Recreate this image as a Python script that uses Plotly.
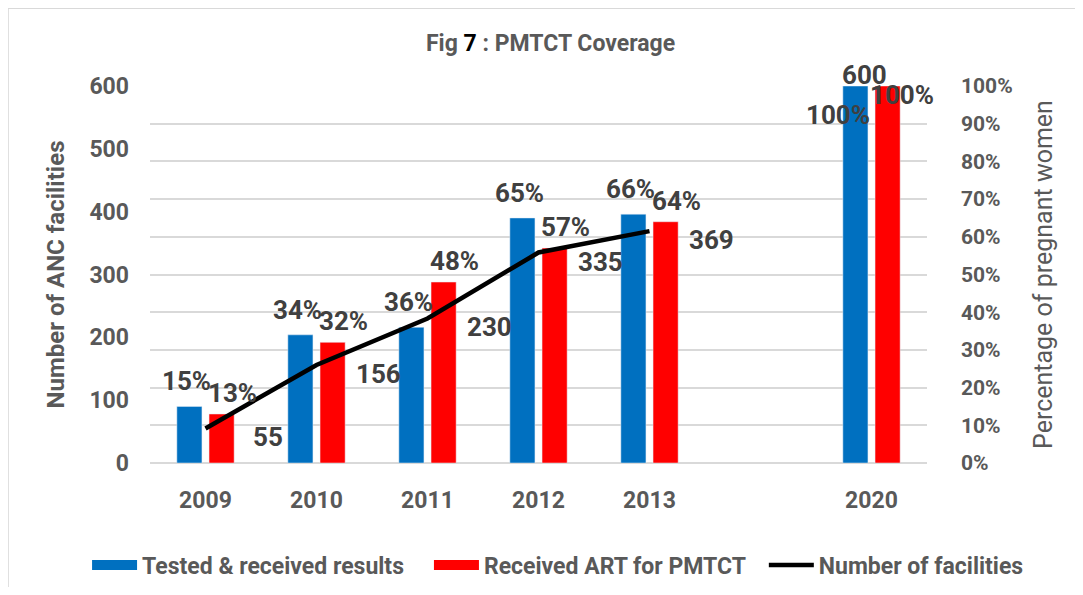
import plotly.graph_objects as go

years = ["2009", "2010", "2011", "2012", "2013", "2020"]
year_pos = [0, 1, 2, 3, 4, 6]   # one empty slot between 2013 and 2020
tested = [0.15, 0.34, 0.36, 0.65, 0.66, 1.00]
art = [0.13, 0.32, 0.48, 0.57, 0.64, 1.00]
# line is broken over the empty slot
line_pos = [0, 1, 2, 3, 4, 5, 6]
facilities = [55, 156, 230, 335, 369, None, 600]

BLUE = "#0070c0"
RED = "#ff0000"
GRAY = "#595959"
LABEL = "#404040"

fig = go.Figure()
fig.add_trace(go.Bar(x=year_pos, y=tested, name="Tested & received results",
                     marker_color=BLUE, yaxis="y", showlegend=False))
fig.add_trace(go.Bar(x=year_pos, y=art, name="Received ART for PMTCT",
                     marker_color=RED, yaxis="y", showlegend=False))
fig.add_trace(go.Scatter(x=line_pos, y=facilities, name="Number of facilities",
                         mode="lines", line=dict(color="black", width=4.5),
                         yaxis="y2", connectgaps=False, legend="legend3"))
# wide swatches for the bar series in the legend
fig.add_trace(go.Scatter(x=[None], y=[None], mode="lines", name="Tested & received results",
                         line=dict(color=BLUE, width=12), legend="legend"))
fig.add_trace(go.Scatter(x=[None], y=[None], mode="lines", name="Received ART for PMTCT",
                         line=dict(color=RED, width=12), legend="legend2"))

lab_font = dict(family="Roboto", size=26, color=LABEL)
ann = []
for i, (p, t, a) in enumerate(zip(year_pos, tested, art)):
    last = i == len(year_pos) - 1
    ann.append(dict(x=p, y=t, xref="x", yref="y", text=f"<b>{round(t*100)}%</b>",
                    showarrow=False, font=lab_font, yanchor="middle",
                    xshift=-34 if last else -19, yshift=-29 if last else 25))
    ann.append(dict(x=p, y=a, xref="x", yref="y", text=f"<b>{round(a*100)}%</b>",
                    showarrow=False, font=lab_font, yanchor="middle",
                    xshift=30 if last else 27, yshift=-9 if last else 21))
for p, v in zip(line_pos, facilities):
    if v is None:
        continue
    last = p == line_pos[-1]
    ann.append(dict(x=p, y=v, xref="x", yref="y2", text=f"<b>{v}</b>",
                    showarrow=False, font=lab_font, yanchor="middle",
                    xshift=-7 if last else 62, yshift=11 if last else -9))

ann.append(dict(x=0.515, y=1.114, xref="paper", yref="paper", showarrow=False,
                xanchor="center", yanchor="middle",
                text="<b>Fig <span style='color:black'>7</span> : PMTCT Coverage</b>",
                font=dict(family="Roboto", size=23, color=GRAY)))

leg = dict(orientation="h", xanchor="left", yref="container", y=0.038, yanchor="middle",
           font=dict(family="Roboto", size=23, color=GRAY, weight="bold"),
           itemwidth=45, bgcolor="rgba(0,0,0,0)")

fig.update_layout(
    width=1067, height=579,
    margin=dict(l=142, r=148, t=78, b=124),
    paper_bgcolor="white", plot_bgcolor="white",
    barmode="group", bargap=0.42, bargroupgap=0.22,
    showlegend=True,
    legend=dict(leg, x=-0.081),
    legend2=dict(leg, x=0.359),
    legend3=dict(leg, x=0.790),
    xaxis=dict(range=[-0.5, 6.5], tickvals=year_pos, ticktext=[f"<b>{y}</b>" for y in years],
               tickfont=dict(family="Roboto", size=23, color=GRAY),
               showgrid=False, showline=False, zeroline=False, ticks="", ticklabelstandoff=21),
    yaxis=dict(side="right", range=[0, 1], dtick=0.1, tickformat=".0%",
               tickfont=dict(family="Roboto", size=21, color=GRAY, weight="bold"),
               showgrid=True, gridcolor="#d9d9d9", gridwidth=2,
               zeroline=True, zerolinecolor="#d9d9d9", zerolinewidth=2,
               ticklabelstandoff=33,
               title=dict(text="Percentage of pregnant women", standoff=22,
                          font=dict(family="Roboto", size=25, color=GRAY))),
    yaxis2=dict(side="left", overlaying="y", range=[0, 600], dtick=100,
                tickfont=dict(family="Roboto", size=23, color=GRAY, weight="bold"),
                showgrid=False, zeroline=False, ticklabelstandoff=20,
                title=dict(text="Number of ANC facilities", standoff=18,
                           font=dict(family="Roboto", size=24, color=GRAY, weight="bold"))),
    annotations=ann,
    shapes=[dict(type="rect", xref="paper", yref="paper", x0=-0.183, x1=1.3,
                 y0=-0.4, y1=1.207, line=dict(color="#d9d9d9", width=2), layer="below")],
)

fig.write_html("out.html")
